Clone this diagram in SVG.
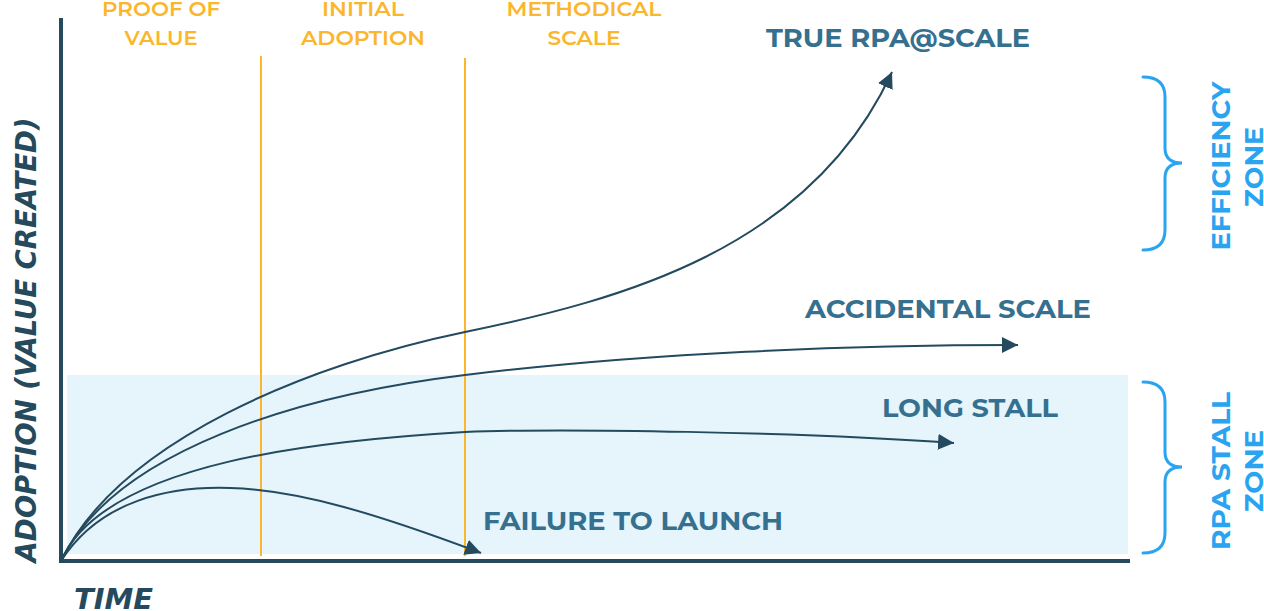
<svg xmlns="http://www.w3.org/2000/svg" width="1264" height="611" viewBox="0 0 1264 611">
<defs>
<style>
.axis{stroke:#264a5d;stroke-width:4;fill:none;stroke-linecap:square}
.phase{stroke:#fbb62b;stroke-width:2;fill:none}
.phasetxt{font-family:"Montserrat","Open Sans","Noto Sans",sans-serif;font-weight:600;font-size:21px;fill:#fbb62b;text-anchor:middle}
.curve{stroke:#234a5e;stroke-width:2;fill:none;marker-end:url(#arr)}
.lbl{font-family:"Montserrat","Open Sans","Noto Sans",sans-serif;font-weight:700;font-size:26px;fill:#36708f}
.brace{stroke:#2aa4f0;stroke-width:3;fill:none;stroke-linecap:round}
.zone{font-family:"Montserrat","Open Sans","Noto Sans",sans-serif;font-weight:700;font-size:26px;fill:#2aa4f0;text-anchor:middle}
.hand{font-family:"DejaVu Sans",sans-serif;font-weight:bold;font-style:italic;fill:#264a5d}
</style>
<marker id="arr" markerUnits="userSpaceOnUse" markerWidth="18" markerHeight="18" refX="16" refY="8" orient="auto" viewBox="0 0 18 18">
<path d="M0,0 L16,8 L0,16 Z" fill="#234a5e"/>
</marker>
</defs>

<g id="stall-zone-band">
<rect x="67" y="375" width="1061" height="179" fill="#e6f4fc"/>
</g>

<g id="phase-lines">
<line class="phase" x1="261" y1="56" x2="261" y2="556"/>
<line class="phase" x1="465" y1="58" x2="465" y2="556"/>
</g>

<g id="phase-proof">
<text class="phasetxt" x="161" y="16" textLength="118" lengthAdjust="spacingAndGlyphs">PROOF OF</text>
<text class="phasetxt" x="161" y="45" textLength="73" lengthAdjust="spacingAndGlyphs">VALUE</text>
</g>
<g id="phase-initial">
<text class="phasetxt" x="363" y="16" textLength="82" lengthAdjust="spacingAndGlyphs">INITIAL</text>
<text class="phasetxt" x="363" y="45" textLength="124" lengthAdjust="spacingAndGlyphs">ADOPTION</text>
</g>
<g id="phase-methodical">
<text class="phasetxt" x="584" y="16" textLength="155" lengthAdjust="spacingAndGlyphs">METHODICAL</text>
<text class="phasetxt" x="584" y="45" textLength="73" lengthAdjust="spacingAndGlyphs">SCALE</text>
</g>

<g id="connectors">
<path class="curve" d="M61,561 C120,440 310,364 465,332 C620,300 810,250 892,72"/>
<path class="curve" d="M61,561 C115,450 300,395 465,375 C645,353 850,345 1018,345"/>
<path class="curve" d="M61,561 C105,460 330,440 465,432 C560,428 800,432 954,443"/>
<path class="curve" d="M61,561 C100,500 170,486 230,488 C300,490 380,515 481,553"/>
</g>

<g id="axes">
<line class="axis" x1="61" y1="20" x2="61" y2="561"/>
<line class="axis" x1="61" y1="561" x2="1128" y2="561"/>
<text class="hand" font-size="28" transform="translate(36,340) rotate(-90)" text-anchor="middle" textLength="445" lengthAdjust="spacingAndGlyphs">ADOPTION (VALUE CREATED)</text>
<text class="hand" font-size="28" x="74" y="609" textLength="79" lengthAdjust="spacingAndGlyphs">TIME</text>
</g>

<g id="label-true">
<text class="lbl" x="766" y="47" textLength="264" lengthAdjust="spacingAndGlyphs">TRUE RPA@SCALE</text>
</g>
<g id="label-accidental">
<text class="lbl" x="805" y="318" textLength="286" lengthAdjust="spacingAndGlyphs">ACCIDENTAL SCALE</text>
</g>
<g id="label-long-stall">
<text class="lbl" x="882" y="417" textLength="176" lengthAdjust="spacingAndGlyphs">LONG STALL</text>
</g>
<g id="label-failure">
<text class="lbl" x="483" y="530" textLength="300" lengthAdjust="spacingAndGlyphs">FAILURE TO LAUNCH</text>
</g>

<g id="efficiency-zone">
<path class="brace" d="M1143,77 Q1165,77 1165,97 L1165,148 Q1165,163 1182,163 Q1165,163 1165,178 L1165,230 Q1165,250 1143,250"/>
<text class="zone" transform="translate(1230,166) rotate(-90)" textLength="169" lengthAdjust="spacingAndGlyphs">EFFICIENCY</text>
<text class="zone" transform="translate(1263,167) rotate(-90)" textLength="80" lengthAdjust="spacingAndGlyphs">ZONE</text>
</g>
<g id="rpa-stall-zone">
<path class="brace" d="M1143,382 Q1165,382 1165,402 L1165,452 Q1165,467 1182,467 Q1165,467 1165,482 L1165,533 Q1165,553 1143,553"/>
<text class="zone" transform="translate(1230,471) rotate(-90)" textLength="158" lengthAdjust="spacingAndGlyphs">RPA STALL</text>
<text class="zone" transform="translate(1263,471) rotate(-90)" textLength="82" lengthAdjust="spacingAndGlyphs">ZONE</text>
</g>
</svg>
